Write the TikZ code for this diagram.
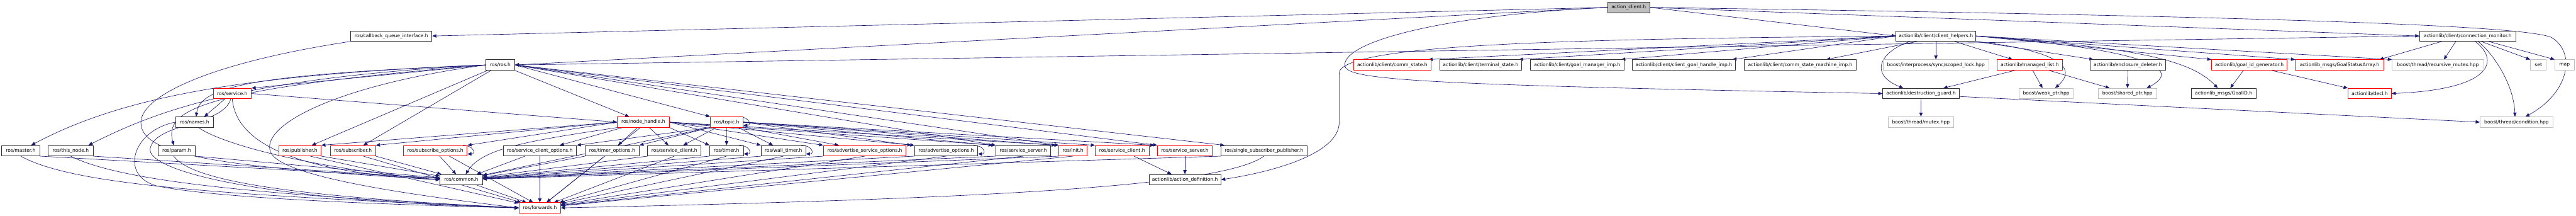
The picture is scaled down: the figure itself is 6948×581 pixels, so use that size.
\documentclass[tikz,border=0pt]{standalone}
\usepackage{fontspec}
\setmainfont{DejaVu Sans}
\usetikzlibrary{arrows.meta, backgrounds}
\definecolor{edgeblue}{RGB}{25, 25, 112}
\definecolor{sysgray}{RGB}{191, 191, 191}
\definecolor{hdrred}{RGB}{255, 0, 0}
\definecolor{topfill}{RGB}{191, 191, 191}

\tikzset{
  file/.style={draw=black!80, line width=0.7pt, fill=white, rectangle, minimum height=14pt,
    inner sep=0pt, font=\fontsize{6.4}{7.5}\selectfont},
  redfile/.style={file, draw=hdrred},
  sysfile/.style={file, draw=sysgray},
  topfile/.style={file, fill=topfill},
  dep/.style={draw=edgeblue, line width=0.55pt, -{Triangle[length=5.5pt,width=4.5pt]}},
}
% file box from left edge to right edge
\newcommand{\incfile}[6][file]{\node[#1, minimum width={(#4-#3)*0.5pt}] (#2) at ({(#3+#4)/2},#5) {#6};}

\begin{document}
\begin{tikzpicture}[x=0.5pt, y=-0.5pt]
        \useasboundingbox (0,0) rectangle (6948,581);

        % Top file
        \incfile[topfile]{ac}{4336}{4450}{20}{action\_client.h}

        % Level 1
        \incfile{cqi}{946}{1165}{97}{ros/callback\_queue\_interface.h}
        \incfile{helpers}{5114}{5329}{97}{actionlib/client/client\_helpers.h}
        \incfile{cmon}{6526}{6786}{97}{actionlib/client/connection\_monitor.h}

        % Level 2
        \incfile{rosh}{1311}{1388}{175}{ros/ros.h}
        \incfile[redfile]{commstate}{3651}{3860}{175}{actionlib/client/comm\_state.h}
        \incfile{termstate}{3883}{4104}{175}{actionlib/client/terminal\_state.h}
        \incfile{gmimp}{4128}{4380}{175}{actionlib/client/goal\_manager\_imp.h}
        \incfile{cghimp}{4403}{4680}{175}{actionlib/client/client\_goal\_handle\_imp.h}
        \incfile{csmimp}{4704}{5007}{175}{actionlib/client/comm\_state\_machine\_imp.h}
        \incfile[sysfile]{scoped}{5079}{5364}{175}{boost/interprocess/sync/scoped\_lock.hpp}
        \incfile[redfile]{mlist}{5386}{5563}{175}{actionlib/managed\_list.h}
        \incfile{encl}{5637}{5841}{175}{actionlib/enclosure\_deleter.h}
        \incfile[redfile]{gidgen}{5965}{6169}{175}{actionlib/goal\_id\_generator.h}
        \incfile[redfile]{gsa}{6191}{6429}{175}{actionlib\_msgs/GoalStatusArray.h}
        \incfile[sysfile]{rmutex}{6452}{6699}{175}{boost/thread/recursive\_mutex.hpp}
        \incfile[sysfile]{stdset}{6825}{6868}{175}{set}
        \incfile[sysfile]{stdmap}{6891}{6943}{175}{map}

        % Level 3
        \incfile[redfile]{service}{575}{678}{252}{ros/service.h}
        \incfile{dguard}{5078}{5285}{252}{actionlib/destruction\_guard.h}
        \incfile[sysfile]{weakptr}{5446}{5592}{252}{boost/weak\_ptr.hpp}
        \incfile[sysfile]{sharedptr}{5659}{5817}{252}{boost/shared\_ptr.hpp}
        \incfile{goalid}{5910}{6085}{252}{actionlib\_msgs/GoalID.h}
        \incfile[redfile]{decl}{6333}{6450}{252}{actionlib/decl.h}

        % Level 4
        \incfile{names}{474}{576}{329}{ros/names.h}
        \incfile[redfile]{nh}{1665}{1805}{329}{ros/node\_handle.h}
        \incfile[redfile]{topic}{1916}{2004}{329}{ros/topic.h}
        \incfile[sysfile]{mutex}{5093}{5269}{329}{boost/thread/mutex.hpp}
        \incfile[sysfile]{cond}{6689}{6886}{329}{boost/thread/condition.hpp}

        % Level 5
        \incfile{master}{4}{108}{406}{ros/master.h}
        \incfile{thisnode}{130}{251}{406}{ros/this\_node.h}
        \incfile{param}{426}{527}{406}{ros/param.h}
        \incfile[redfile]{pub}{752}{866}{406}{ros/publisher.h}
        \incfile[redfile]{sub}{891}{1013}{406}{ros/subscriber.h}
        \incfile[redfile]{subopt}{1088}{1260}{406}{ros/subscribe\_options.h}
        \incfile{scopt}{1357}{1555}{406}{ros/service\_client\_options.h}
        \incfile{topt}{1578}{1724}{406}{ros/timer\_options.h}
        \incfile{sclient}{1747}{1891}{406}{ros/service\_client.h}
        \incfile{timer}{1914}{2005}{406}{ros/timer.h}
        \incfile{wtimer}{2053}{2173}{406}{ros/wall\_timer.h}
        \incfile[redfile]{asopt}{2221}{2444}{406}{ros/advertise\_service\_options.h}
        \incfile{aopt}{2467}{2637}{406}{ros/advertise\_options.h}
        \incfile{sserver}{2686}{2834}{406}{ros/service\_server.h}
        \incfile[redfile]{init}{2856}{2932}{406}{ros/init.h}
        \incfile[redfile]{sclienttwo}{2954}{3099}{406}{ros/service\_client.h}
        \incfile[redfile]{sservertwo}{3122}{3270}{406}{ros/service\_server.h}
        \incfile{ssp}{3293}{3525}{406}{ros/single\_subscriber\_publisher.h}

        % Level 6 and 7
        \incfile{common}{1187}{1301}{484}{ros/common.h}
        \incfile{actdef}{3099}{3293}{484}{actionlib/action\_definition.h}
        \incfile[redfile]{forwards}{1400}{1512}{560}{ros/forwards.h}

        \begin{pgfonlayer}{background}
        \fill[white] (0,0) rectangle (6948,581);

        % action_client.h
        \draw[dep] (ac.west) -- (cqi.east);
        \draw[dep] (ac.west) -- (rosh.east);
        \draw[dep] (ac.east) -- (helpers.west);
        \draw[dep] (ac.east) -- (cmon.west);
        \draw[dep] (ac.west) .. controls (3900,40) and (3627,110) .. (3627,175)
          .. controls (3627,215) and (3800,228) .. (dguard.west);
        \draw[dep] (ac.east) .. controls (6200,45) and (6800,70) .. (6880,100)
          .. controls (6950,140) and (6930,250) .. ([xshift=12pt]cond.north);

        % client_helpers.h
        \draw[dep] (helpers.west) -- ([xshift=-4pt]commstate.north east);
        \draw[dep] (helpers.west) -- ([xshift=-4pt]termstate.north east);
        \draw[dep] (helpers.west) -- ([xshift=-4pt]gmimp.north east);
        \draw[dep] (helpers.west) -- ([xshift=-4pt]cghimp.north east);
        \draw[dep] ([xshift=-25pt]helpers.south) -- ([xshift=35pt]csmimp.north);
        \draw[dep] (helpers) -- (scoped);
        \draw[dep] ([xshift=25pt]helpers.south) -- ([xshift=-23pt]mlist.north);
        \draw[dep] (helpers.south east) -- ([xshift=5pt]encl.north west);
        \draw[dep] (helpers.east) -- (gidgen.north west);
        \draw[dep] (helpers.east) -- (gsa.north west);
        \draw[dep] (helpers.east) -- (rmutex.north west);
        \draw[dep] ([xshift=-35pt]helpers.south) .. controls (5070,140) and (5040,200) .. ([xshift=-24pt]dguard.north);
        \draw[dep] (helpers.south east) .. controls (5500,130) and (5620,170) .. ([xshift=12pt]weakptr.north);
        \draw[dep] (helpers.east) .. controls (5750,130) and (5900,180) .. ([xshift=26pt]sharedptr.north);
        \draw[dep] (helpers.east) .. controls (5700,125) and (5900,150) .. ([xshift=-8pt]goalid.north);
        \draw[dep] (helpers.west) .. controls (4300,105) and (3600,115) .. (3612,200)
          -- (3612,330) .. controls (3612,410) and (3450,460) .. (actdef.east);

        % connection_monitor.h
        \draw[dep] (cmon.west) -- (rosh.east);
        \draw[dep] ([xshift=-35pt]cmon.south) -- ([xshift=-6pt]gsa.north east);
        \draw[dep] ([xshift=-16pt]cmon.south) -- ([xshift=8pt]rmutex.north);
        \draw[dep] ([xshift=10pt]cmon.south) .. controls (6740,160) and (6730,240) .. (decl.east);
        \draw[dep] ([xshift=14pt]cmon.south) .. controls (6730,150) and (6780,230) .. ([xshift=-2pt]cond.north);
        \draw[dep] ([xshift=18pt]cmon.south) -- (stdset.north west);
        \draw[dep] ([xshift=28pt]cmon.south) -- (stdmap.north west);

        % actionlib helpers
        \draw[dep] (dguard) -- (mutex);
        \draw[dep] ([yshift=-4pt]dguard.east) -- (cond.west);
        \draw[dep] ([xshift=-20pt]mlist.south) -- ([xshift=-22pt]dguard.north east);
        \draw[dep] ([xshift=4pt]mlist.south) -- ([xshift=-5pt]weakptr.north);
        \draw[dep] ([xshift=26pt]mlist.south) -- ([xshift=-24pt]sharedptr.north);
        \draw[dep] (encl) -- (sharedptr);
        \draw[dep] ([xshift=-8pt]gidgen.south) -- ([xshift=9pt]goalid.north);
        \draw[dep] ([xshift=30pt]gidgen.south) -- (decl.north west);
        \draw[dep] ([xshift=16pt]sclienttwo.south) -- ([xshift=-18pt]actdef.north);
        \draw[dep] (sservertwo) -- (actdef);

        % ros/ros.h
        \draw[dep] (rosh.west) -- (service.north east);
        \draw[dep] (rosh.west) .. controls (700,200) and (540,230) .. ([xshift=2pt]names.north);
        \draw[dep] (rosh.west) .. controls (700,200) and (350,250) .. ([xshift=14pt]master.north);
        \draw[dep] (rosh.west) .. controls (650,210) and (420,300) .. ([xshift=24pt]thisnode.north);
        \draw[dep] (rosh.west) .. controls (520,240) and (445,300) .. ([xshift=-4pt]param.north);
        \draw[dep] (rosh) -- ([xshift=16pt]pub.north);
        \draw[dep] (rosh) -- ([xshift=14pt]sub.north);
        \draw[dep] (rosh.south east) -- ([xshift=-19pt]nh.north);
        \draw[dep] (rosh.east) -- (topic.north west);
        \draw[dep] (rosh.east) -- (sserver.north west);
        \draw[dep] (rosh.east) -- (init.north west);
        \draw[dep] (rosh.east) -- (sservertwo.north west);
        \draw[dep] (rosh.east) -- ([xshift=5pt]ssp.north west);
        \draw[dep] (rosh.west) .. controls (900,230) and (700,340) .. (730,410)
          .. controls (760,480) and (1150,530) .. (forwards.west);

        % ros/service.h and ros/names.h
        \draw[dep] (service.east) -- (nh.west);
        \draw[dep] ([xshift=-10pt]service.south) -- ([xshift=13pt]names.north);
        \draw[dep] (service.south) .. controls (640,420) and (900,470) .. (common.west);
        \draw[dep] ([xshift=-2pt]service.south) .. controls (600,340) and (420,330) .. (405,400)
          .. controls (395,460) and (700,540) .. (forwards.west);
        \draw[dep] ([xshift=5pt]names.south) .. controls (620,400) and (900,460) .. (common.west);
        \draw[dep] (names.west) .. controls (360,350) and (320,470) .. (420,500)
          .. controls (600,540) and (1200,555) .. (forwards.west);
        \draw[dep] (cqi.south west) .. controls (560,170) and (380,260) .. (380,330)
          .. controls (380,420) and (600,450) .. (common.west);

        % ros/node_handle.h
        \draw[dep] ([xshift=-28pt]nh.south) -- ([xshift=27pt]scopt.north);
        \draw[dep] ([xshift=-8pt]nh.south) -- ([xshift=8pt]topt.north);
        \draw[dep] ([xshift=8pt]nh.south) -- ([xshift=-8pt]sclient.north);
        \draw[dep] (nh.south east) -- (timer.north west);
        \draw[dep] (nh.east) -- (wtimer.north west);
        \draw[dep] (nh.east) -- (asopt.north west);
        \draw[dep] (nh.east) -- (aopt.north west);
        \draw[dep] (nh.east) -- (sserver.north west);
        \draw[dep] (nh.east) -- (init.north west);
        \draw[dep] (nh.west) -- (pub.north east);
        \draw[dep] (nh.west) -- (sub.north east);
        \draw[dep] (nh.west) -- (subopt.north east);
        \draw[dep] (nh.south west) .. controls (1420,380) and (1300,400) .. ([xshift=6pt]common.north);
        \draw[dep] ([xshift=-4pt]nh.south) -- (forwards);

        % ros/topic.h
        \draw[dep] ([xshift=-14pt]topic.south) -- ([xshift=12pt]sclient.north);
        \draw[dep] (topic) -- (timer);
        \draw[dep] ([xshift=16pt]topic.south) -- ([xshift=-14pt]wtimer.north);
        \draw[dep] (topic.south east) -- ([xshift=-35pt]asopt.north);
        \draw[dep] (topic.east) -- ([xshift=-4pt]aopt.north west);
        \draw[dep] (topic.east) -- ([xshift=-4pt]sserver.north west);
        \draw[dep] (topic.east) -- ([xshift=-4pt]init.north west);
        \draw[dep] (topic.east) -- (sclienttwo.north west);
        \draw[dep] (topic.east) -- ([xshift=-4pt]sservertwo.north west);
        \draw[dep] (topic.south west) -- (scopt.north east);
        \draw[dep] (topic.south west) -- (topt.north east);
        \draw[dep] (topic.south west) -- (common);

        % self includes
        \draw[dep] ([xshift=-6pt]topic.north east) .. controls +(14pt,0pt) and +(12pt,0pt) .. ([yshift=3pt]topic.south east);
        \draw[dep] ([xshift=-6pt]subopt.north east) .. controls +(14pt,0pt) and +(12pt,0pt) .. ([yshift=3pt]subopt.south east);
        \draw[dep] ([xshift=-6pt]timer.north east) .. controls +(14pt,0pt) and +(12pt,0pt) .. ([yshift=3pt]timer.south east);
        \draw[dep] ([xshift=-6pt]wtimer.north east) .. controls +(14pt,0pt) and +(12pt,0pt) .. ([yshift=3pt]wtimer.south east);
        \draw[dep] ([xshift=-6pt]aopt.north east) .. controls +(14pt,0pt) and +(12pt,0pt) .. ([yshift=3pt]aopt.south east);

        % into ros/common.h
        \draw[dep] (master.south east) -- (common);
        \draw[dep] (thisnode.south east) -- (common);
        \draw[dep] (param.south east) -- (common);
        \draw[dep] (pub.south east) -- (common);
        \draw[dep] (sub.south east) -- (common);
        \draw[dep] ([xshift=6pt]subopt.south) -- ([xshift=-7pt]common.north);
        \draw[dep] ([xshift=-20pt]scopt.south) -- ([xshift=21pt]common.north);
        \draw[dep] (topt.south west) -- (common);
        \draw[dep] (sclient.south west) -- (common);
        \draw[dep] (timer.south west) -- (common);
        \draw[dep] (wtimer.south west) -- (common);
        \draw[dep] (asopt.south west) -- (common);
        \draw[dep] (aopt.south west) -- (common);
        \draw[dep] (sserver.south west) -- (common);
        \draw[dep] (init.south west) -- (common);
        \draw[dep] (ssp.south west) -- (common);

        % into ros/forwards.h
        \draw[dep] (master.south) .. controls (200,500) and (600,525) .. (forwards.west);
        \draw[dep] (thisnode.south) .. controls (330,490) and (700,525) .. (forwards.west);
        \draw[dep] ([xshift=-4pt]param.south) .. controls (520,490) and (800,530) .. (forwards.west);
        \draw[dep] ([xshift=14pt]pub.south) -- (forwards);
        \draw[dep] ([xshift=14pt]sub.south) -- (forwards);
        \draw[dep] ([xshift=19pt]subopt.south) -- ([xshift=-9pt]forwards.north);
        \draw[dep] (scopt) -- (forwards);
        \draw[dep] ([xshift=-10pt]topt.south) -- ([xshift=9pt]forwards.north);
        \draw[dep] ([xshift=21pt]common.south) -- ([xshift=-18pt]forwards.north);
        \draw[dep] (sclient.south) -- (forwards);
        \draw[dep] (timer.south) -- (forwards);
        \draw[dep] (wtimer.south) -- (forwards);
        \draw[dep] (asopt.south) -- (forwards);
        \draw[dep] (aopt.south) -- (forwards);
        \draw[dep] (sserver.south) -- (forwards);
        \draw[dep] (init.south) -- (forwards);
        \draw[dep] (ssp.south) .. controls (3300,500) and (2700,535) .. (forwards.east);
        \end{pgfonlayer}
      \end{tikzpicture}
\end{document}
